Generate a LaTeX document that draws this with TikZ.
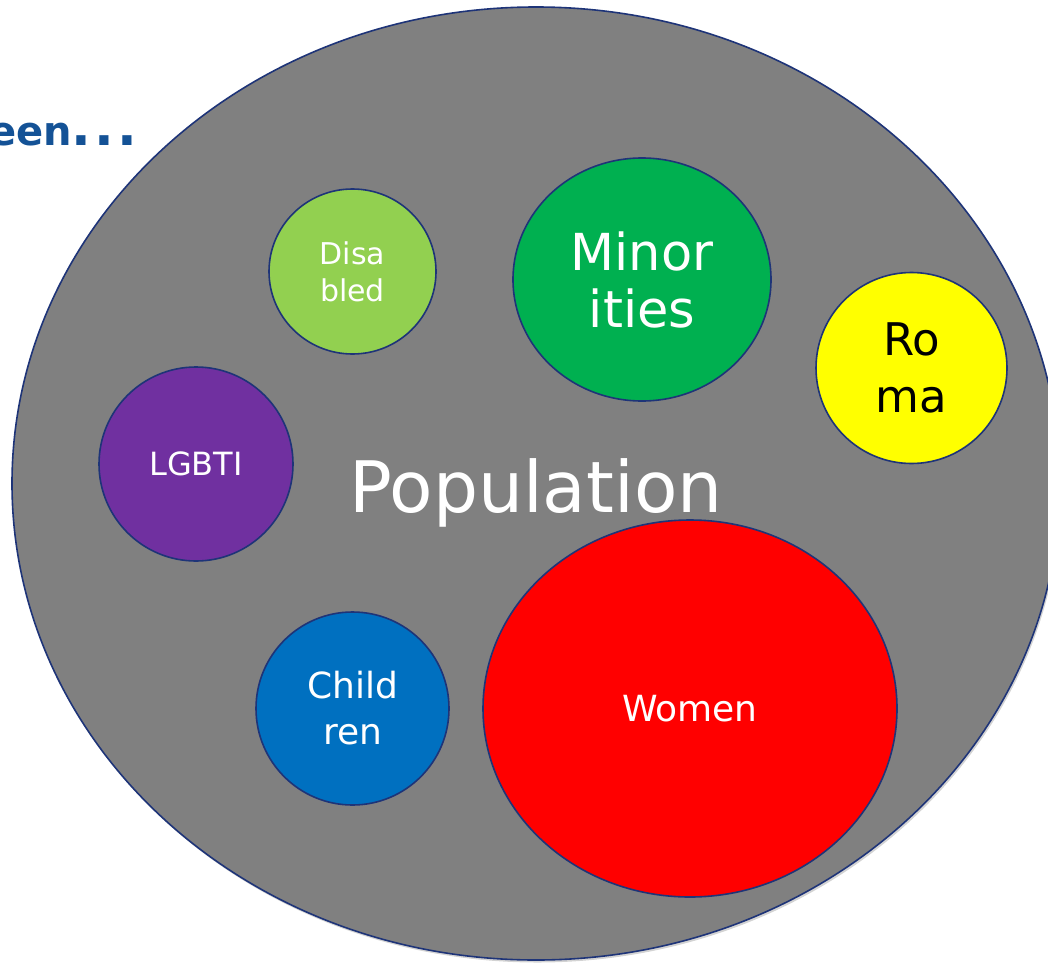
\documentclass[tikz,border=0pt]{standalone}
\usepackage{fontspec}
\setmainfont{DejaVu Sans}
\usetikzlibrary{shapes.geometric,shadows}
\definecolor{outline}{RGB}{30,52,120}
\definecolor{popgray}{RGB}{128,128,128}
\definecolor{headblue}{RGB}{20,82,150}
\definecolor{disgreen}{RGB}{146,208,80}
\definecolor{mingreen}{RGB}{0,176,80}
\definecolor{romayellow}{RGB}{255,255,0}
\definecolor{lgbtpurple}{RGB}{112,48,160}
\definecolor{childblue}{RGB}{0,112,192}
\newcommand{\fsz}[2]{\fontsize{#1}{#2}\selectfont}
\begin{document}
\begin{tikzpicture}[x=1pt,y=-1pt,
  group/.style={ellipse,draw=outline,line width=1.6pt,inner sep=0pt,align=center,text=white,
    drop shadow={opacity=0.35,shadow xshift=1.5pt,shadow yshift=-2.5pt}}]
\useasboundingbox (0,0) rectangle (1048,963);
\clip (0,0) rectangle (1048,963);
% heading, cut at the left
\node[anchor=base west,inner sep=0pt,text=headblue,font=\bfseries\fsz{40}{48}] (head) at (-11,145)
  {een{\fsz{52}{60}.\kern3pt.\kern3pt.}};
% population
\node[group,fill=popgray,minimum width=1048pt,minimum height=953pt] (pop) at (536,483.5) {};
\node[anchor=base,inner sep=0pt,text=white,font=\fsz{71}{80}] (poplabel) at (535.8,512.7) {Population};
% groups
\node[group,fill=disgreen,minimum width=167pt,minimum height=165pt,font=\fsz{30}{37}] (disabled) at (352.5,271.5) {Disa\\bled};
\node[group,fill=mingreen,minimum width=258pt,minimum height=243pt,font=\fsz{51}{57}] (minorities) at (642,279.5) {Minor\\ities};
\node[group,fill=romayellow,text=black,minimum width=191pt,minimum height=191pt,font=\fsz{45}{57}] (roma) at (911.5,368) {Ro\\ma};
\node[group,fill=lgbtpurple,minimum width=194pt,minimum height=194pt,font=\fsz{32}{38}] (lgbti) at (196,464) {LGBTI};
\node[group,fill=childblue,minimum width=193pt,minimum height=193pt,font=\fsz{36}{46}] (children) at (352.5,708.5) {Child\\ren};
\node[group,fill=red,minimum width=414pt,minimum height=377pt,font=\fsz{36}{44}] (women) at (690,708.5) {Women};
\end{tikzpicture}
\end{document}
